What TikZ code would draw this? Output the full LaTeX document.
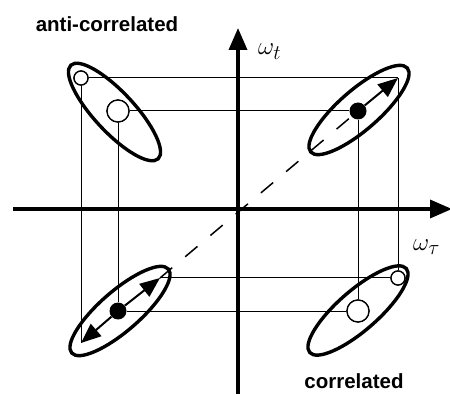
\documentclass[tikz,border=0pt]{standalone}
\usepackage{fontspec}
\setsansfont{Liberation Sans}
\usetikzlibrary{arrows.meta}

\begin{document}
\begin{tikzpicture}[x=1pt,y=1pt]
  \tikzstyle{axis}=[line width=3.5pt,-{Triangle[length=22pt,width=18pt]}]
  \tikzstyle{grid}=[line width=1pt]
  \tikzstyle{ring}=[line width=3.4pt]
  \tikzstyle{hole}=[circle,draw,line width=1.3pt,fill=white,inner sep=0pt,minimum size=14pt]
  \tikzstyle{bighole}=[hole,minimum size=22pt]
  \tikzstyle{dot}=[circle,fill,inner sep=0pt,minimum size=17pt]
  \tikzstyle{swing}=[line width=2pt,-{Triangle[length=20pt,width=16pt]}]
  \tikzstyle{lbl}=[font=\sffamily\bfseries\fontsize{20.5}{22}\selectfont,inner sep=0pt]
  \tikzstyle{omega}=[anchor=base west,inner sep=0pt,font=\fontsize{31}{31}\selectfont]
  \useasboundingbox (0,0) rectangle (450,394);

  % axes
  \coordinate (ybot) at (238,0);
  \coordinate (ytop) at (238,366);
  \coordinate (xleft) at (13,185);
  \coordinate (xright) at (452,185);
  \draw[axis] (ybot) -- (ytop);
  \draw[axis] (xleft) -- (xright);

  % points
  \node[hole] (tlsmall) at (81,316) {};
  \node[bighole] (tlbig) at (118,283) {};
  \node[dot] (trdot) at (358,283) {};
  \coordinate (trtip) at (398,316);
  \node[dot] (bldot) at (118,83) {};
  \coordinate (bllow) at (81,51);
  \coordinate (blup) at (160,116);
  \node[hole] (brsmall) at (398,116) {};
  \node[bighole] (brbig) at (358,83) {};

  % projections
  \draw[grid] (tlsmall) -- (trtip);
  \draw[grid] (tlbig) -- (trdot);
  \draw[grid] (tlsmall) -- (bllow);
  \draw[grid] (tlbig) -- (bldot);
  \draw[grid] (trdot) -- (brbig);
  \draw[grid] (trtip) -- (brsmall);
  \draw[grid] (blup) -- (brsmall);
  \draw[grid] (bldot) -- (brbig);

  \draw[line width=1.5pt,dash pattern=on 16pt off 17pt] (blup) -- (trdot);

  % ellipses
  \draw[ring,rotate around={-47:(114.5,282)}] (114.5,282) ellipse (64 and 20);
  \draw[ring,rotate around={41:(359,284)}] (359,284) ellipse (64 and 20);
  \draw[ring,rotate around={41:(120,83)}] (120,83) ellipse (64 and 20);
  \draw[ring,rotate around={41:(358,83.5)}] (358,83.5) ellipse (64 and 20);

  \node[hole] at (tlsmall) {};
  \node[bighole] at (tlbig) {};
  \node[hole] at (brsmall) {};
  \node[bighole] at (brbig) {};

  \draw[swing] (trdot) -- (trtip);
  \draw[swing] (bldot) -- (bllow);
  \draw[swing] (bldot) -- (blup);

  \node[lbl,anchor=base] (anti) at (107,362) {anti-correlated};
  \node[lbl,anchor=base] (corr) at (354,6) {correlated};
  \node[omega] (wt) at (258,339) {$\omega_t$};
  \node[omega] (wtau) at (413,143) {$\omega_\tau$};
\end{tikzpicture}
\end{document}
